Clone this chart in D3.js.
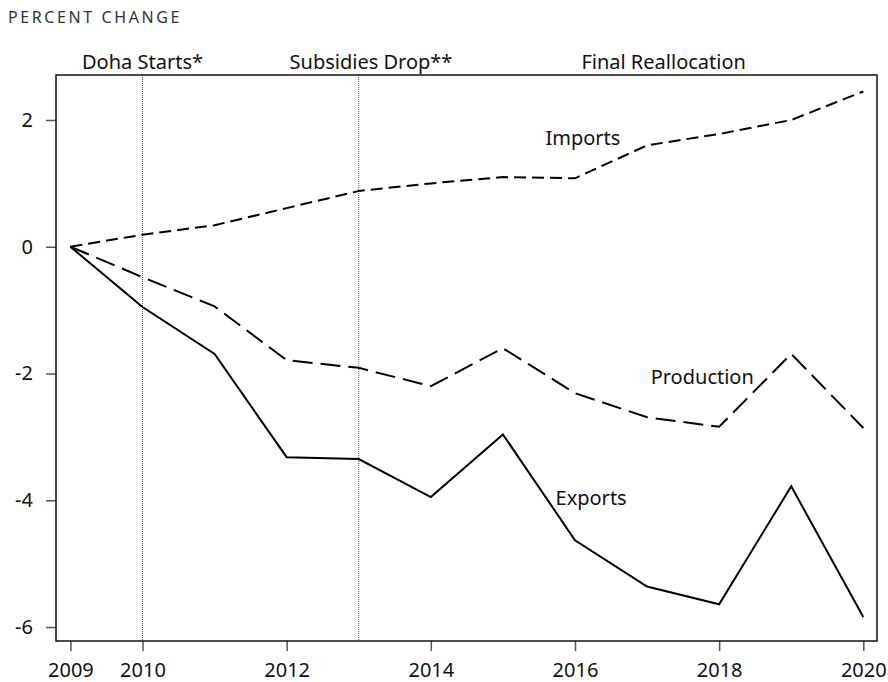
<!DOCTYPE html>
<html>
<head>
<meta charset="utf-8">
<script src="https://cdn.jsdelivr.net/npm/d3@7"></script>
<style>
  body { margin: 0; background: #fff; }
  svg { font-family: "Noto Sans", Lato, sans-serif; }
</style>
</head>
<body>
<div id="chart"></div>
<script>
const years = [2009, 2010, 2011, 2012, 2013, 2014, 2015, 2016, 2017, 2018, 2019, 2020];
const imports    = [0, 0.19, 0.34, 0.61, 0.88, 1.0, 1.1, 1.08, 1.6, 1.78, 2.0, 2.45];
const production = [0, -0.48, -0.94, -1.79, -1.91, -2.2, -1.6, -2.31, -2.69, -2.84, -1.69, -2.86];
const exportsV   = [0, -0.95, -1.69, -3.32, -3.35, -3.95, -2.96, -4.63, -5.36, -5.64, -3.78, -5.84];
const xTicks = [2009, 2010, 2012, 2014, 2016, 2018, 2020];
const yTicks = [-6, -4, -2, 0, 2];
const markers = [2010, 2013];
const topLabels = [
  { text: "Doha Starts*", at: 2010 },
  { text: "Subsidies Drop**", at: 2013.17 },
  { text: "Final Reallocation", at: 2017.23 }
];
const seriesLabels = [
  { text: "Imports", year: 2015.59, value: 1.6 },
  { text: "Production", year: 2017.05, value: -2.17 },
  { text: "Exports", year: 2015.73, value: -4.07 }
];

const width = 888, height = 682;
const margin = { top: 75, right: 11, bottom: 41, left: 56 };
const fontFam = "'Noto Sans', Lato, sans-serif";

const svg = d3.select("#chart").append("svg")
  .attr("width", width)
  .attr("height", height);

const x = d3.scaleLinear()
  .domain([2008.8, 2020.19])
  .range([margin.left, width - margin.right]);
const y = d3.scaleLinear()
  .domain([-6.22, 2.71])
  .range([height - margin.bottom, margin.top]);

svg.append("text")
  .attr("x", 8)
  .attr("y", 23)
  .attr("fill", "#333")
  .attr("font-size", 16)
  .attr("letter-spacing", "2.6px")
  .text("PERCENT CHANGE");

// event markers
svg.append("g")
  .selectAll("line")
  .data(markers)
  .join("line")
    .attr("x1", d => x(d)).attr("x2", d => x(d))
    .attr("y1", margin.top).attr("y2", height - margin.bottom)
    .attr("stroke", "#555")
    .attr("stroke-width", 1)
    .attr("stroke-dasharray", "1,1");

svg.append("g")
  .selectAll("text")
  .data(topLabels)
  .join("text")
    .attr("x", d => x(d.at))
    .attr("y", 69)
    .attr("text-anchor", "middle")
    .attr("font-size", 20)
    .attr("fill", "#111")
    .text(d => d.text);

// axes
svg.append("g")
  .attr("transform", `translate(0,${height - margin.bottom})`)
  .call(d3.axisBottom(x).tickValues(xTicks).tickFormat(d => String(d)).tickSize(10).tickPadding(12))
  .call(g => g.select(".domain").remove())
  .call(g => g.selectAll("line").attr("stroke", "#555").attr("stroke-width", 1.5))
  .call(g => g.selectAll("text").attr("font-size", 20).attr("fill", "#111").attr("font-family", fontFam));

svg.append("g")
  .attr("transform", `translate(${margin.left},0)`)
  .call(d3.axisLeft(y).tickValues(yTicks).tickFormat(d => String(d)).tickSize(10).tickPadding(13))
  .call(g => g.select(".domain").remove())
  .call(g => g.selectAll("line").attr("stroke", "#555").attr("stroke-width", 1.5))
  .call(g => g.selectAll("text").attr("font-size", 20).attr("fill", "#111").attr("font-family", fontFam));

// frame
svg.append("rect")
  .attr("x", margin.left)
  .attr("y", margin.top)
  .attr("width", width - margin.left - margin.right)
  .attr("height", height - margin.top - margin.bottom)
  .attr("fill", "none")
  .attr("stroke", "#111")
  .attr("stroke-width", 1.5);

const line = d3.line()
  .x((d, i) => x(years[i]))
  .y(d => y(d));

const series = [
  { values: imports, dash: "12,6" },
  { values: production, dash: "20,8" },
  { values: exportsV, dash: null }
];

svg.append("g")
  .selectAll("path")
  .data(series)
  .join("path")
    .attr("d", d => line(d.values))
    .attr("fill", "none")
    .attr("stroke", "#000")
    .attr("stroke-width", 2)
    .attr("stroke-dasharray", d => d.dash);

svg.append("g")
  .selectAll("text")
  .data(seriesLabels)
  .join("text")
    .attr("x", d => x(d.year))
    .attr("y", d => y(d.value))
    .attr("font-size", 20)
    .attr("fill", "#111")
    .text(d => d.text);
</script>
</body>
</html>
